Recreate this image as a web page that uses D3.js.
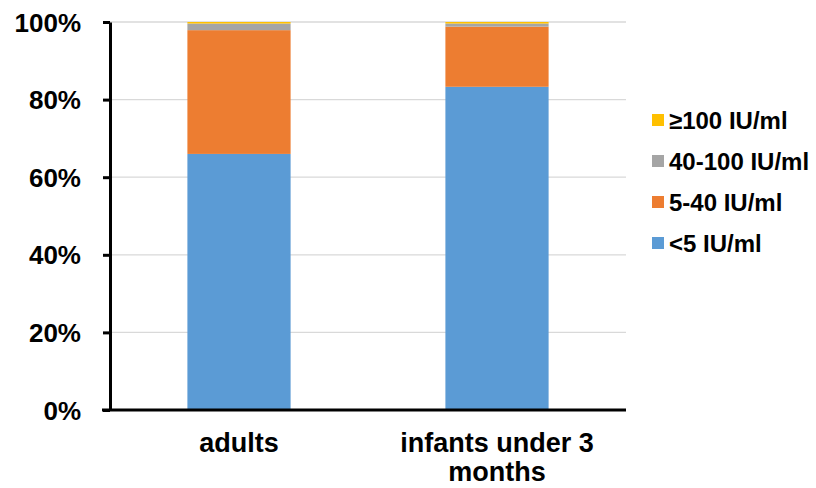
<!DOCTYPE html>
<html>
<head>
<meta charset="utf-8">
<script src="https://cdn.jsdelivr.net/npm/d3@7"></script>
<style>
  html, body { margin: 0; padding: 0; background: #fff; }
  svg text { font-family: "Liberation Sans", Arial, sans-serif; font-weight: bold; fill: #000; }
</style>
</head>
<body>
<svg id="chart" width="816" height="488"></svg>
<script>
// Share of antibody titres by group (percent)
const groups = ["adults", "infants under 3 months"];
const groupLines = [["adults"], ["infants under 3", "months"]];
const seriesNames = ["<5 IU/ml", "5-40 IU/ml", "40-100 IU/ml", "\u2265100 IU/ml"];
const seriesColors = ["#5b9bd5", "#ed7d31", "#a5a5a5", "#ffc000"];
const below5 = [66.0, 83.3];
const from5to40 = [31.9, 15.5];
const from40to100 = [1.7, 0.8];
const above100 = [0.4, 0.4];
const yTicks = [0, 20, 40, 60, 80, 100];

const seriesValues = [below5, from5to40, from40to100, above100];
const rows = groups.map((g, i) => {
  const r = { group: g };
  seriesNames.forEach((s, k) => { r[s] = seriesValues[k][i]; });
  return r;
});

const svg = d3.select("#chart");
const margin = { left: 110, right: 190, top: 22, bottom: 78 };
const W = 816, H = 488;

const x = d3.scaleBand().domain(groups).range([margin.left, W - margin.right]).padding(0);
const y = d3.scaleLinear().domain([0, 100]).range([H - margin.bottom, margin.top]);

// gridlines
svg.append("g")
  .selectAll("line")
  .data(yTicks.filter(t => t > 0))
  .join("line")
  .attr("x1", margin.left).attr("x2", W - margin.right)
  .attr("y1", d => y(d)).attr("y2", d => y(d))
  .attr("stroke", "#d9d9d9").attr("stroke-width", 1.3);

// stacked bars
const stack = d3.stack().keys(seriesNames)(rows);
const barW = x.bandwidth() * 0.4;
svg.append("g")
  .selectAll("g")
  .data(stack)
  .join("g")
  .attr("fill", (d, i) => seriesColors[i])
  .selectAll("rect")
  .data(d => d)
  .join("rect")
  .attr("x", d => x(d.data.group) + (x.bandwidth() - barW) / 2)
  .attr("width", barW)
  .attr("y", d => y(d[1]))
  .attr("height", d => y(d[0]) - y(d[1]));

// y axis
const yAxis = svg.append("g")
  .attr("transform", `translate(${margin.left},0)`)
  .call(d3.axisLeft(y).tickValues(yTicks).tickFormat(d => d + "%").tickSize(7).tickSizeOuter(0).tickPadding(22));
yAxis.select(".domain").attr("stroke", "#000").attr("stroke-width", 3);
yAxis.selectAll(".tick line").attr("stroke", "#000").attr("stroke-width", 3);
yAxis.selectAll(".tick text").style("font-size", "26px").attr("dy", "0.35em");

// x axis
const xAxis = svg.append("g")
  .attr("transform", `translate(0,${y(0)})`)
  .call(d3.axisBottom(x).tickSize(0).tickFormat(""));
xAxis.select(".domain").attr("stroke", "#000").attr("stroke-width", 3)
  .attr("d", `M${margin.left - 8},0H${W - margin.right}`);

xAxis.selectAll(".tick").each(function(d, i) {
  const t = d3.select(this).append("text")
    .attr("text-anchor", "middle")
    .style("font-size", "27px");
  groupLines[i].forEach((line, j) => {
    t.append("tspan").attr("x", 0).attr("y", 42 + j * 29).text(line);
  });
});

// legend, top entry is the last series
const legend = svg.append("g").attr("transform", "translate(652,0)");
const legendOrder = seriesNames.map((s, i) => i).reverse();
legend.selectAll("g")
  .data(legendOrder)
  .join("g")
  .attr("transform", (d, j) => `translate(0,${120 + j * 41})`)
  .each(function(k) {
    const g = d3.select(this);
    g.append("rect").attr("x", 0).attr("y", -6).attr("width", 12).attr("height", 12).attr("fill", seriesColors[k]);
    g.append("text").attr("x", 17).attr("y", 0).attr("dy", "0.36em").style("font-size", "24px").text(seriesNames[k]);
  });
</script>
</body>
</html>
